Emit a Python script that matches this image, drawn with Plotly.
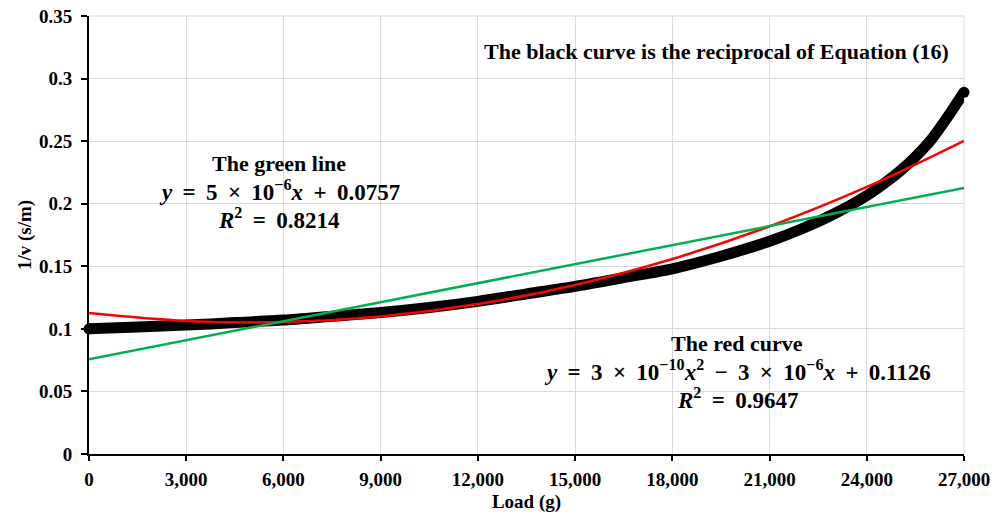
import plotly.graph_objects as go

# Black curve (reciprocal of Equation (16))
load_black = [0, 1500, 3000, 4500, 6000, 7500, 9000, 10500, 12000, 13500, 15000,
              16500, 18000, 19500, 21000, 22000, 23000, 24000, 24500, 25000,
              25500, 26000, 26500, 27000]
inv_v_black = [0.100, 0.1015, 0.103, 0.105, 0.107, 0.110, 0.113, 0.117, 0.122, 0.128, 0.134,
               0.141, 0.148, 0.158, 0.170, 0.180, 0.192, 0.2065, 0.2155, 0.2255,
               0.2375, 0.2515, 0.2695, 0.289]

# Red quadratic trendline
load_red = [0, 3000, 6000, 9000, 12000, 15000, 18000, 21000, 24000, 27000]
inv_v_red = [0.1126, 0.1063, 0.1054, 0.1099, 0.1198, 0.1351, 0.1558, 0.1819, 0.2134, 0.2503]

# Green linear trendline
load_green = [0, 27000]
inv_v_green = [0.0757, 0.2125]

x_ticks = [0, 3000, 6000, 9000, 12000, 15000, 18000, 21000, 24000, 27000]
y_ticks = [0, 0.05, 0.1, 0.15, 0.2, 0.25, 0.3, 0.35]
y_tick_text = ["0", "0.05", "0.1", "0.15", "0.2", "0.25", "0.3", "0.35"]

serif = "Liberation Serif"
GAP = "\u00a0\u2009"

fig = go.Figure()
fig.add_trace(go.Scatter(x=load_black, y=inv_v_black, mode="lines",
                         line=dict(color="black", width=11, shape="spline", smoothing=0.8),
                         showlegend=False, hoverinfo="skip"))
fig.add_trace(go.Scatter(x=[load_black[0], load_black[-1]], y=[inv_v_black[0], inv_v_black[-1]],
                         mode="markers", marker=dict(color="black", size=11),
                         showlegend=False, hoverinfo="skip", cliponaxis=False))
fig.add_trace(go.Scatter(x=load_red, y=inv_v_red, mode="lines",
                         line=dict(color="#ff0000", width=2.5, shape="spline"),
                         showlegend=False, hoverinfo="skip"))
fig.add_trace(go.Scatter(x=load_green, y=inv_v_green, mode="lines",
                         line=dict(color="#00b050", width=2.5),
                         showlegend=False, hoverinfo="skip"))

ann_font = dict(family=serif, size=22, color="black")
eq_font = dict(family=serif, size=23, color="black")


def sp(s):
    return s.replace(" ", GAP)


fig.add_annotation(x=0.985, y=0.3215, xref="x domain", yref="y",
                   text="<b>The black curve is the reciprocal of Equation (16)</b>",
                   showarrow=False, xanchor="right", yanchor="middle", font=ann_font)
green_lines = ["<b>The green line</b>",
               "<b>" + sp("<i>y</i> = 5 × 10<sup>−6</sup><i>x</i> + 0.0757") + "</b>",
               "<b>" + sp("<i>R</i><sup>2</sup> = 0.8214") + "</b>"]
red_lines = ["<b>The red curve</b>",
             "<b>" + sp("<i>y</i> = 3 × 10<sup>−10</sup><i>x</i><sup>2</sup> − 3 × 10<sup>−6</sup><i>x</i> + 0.1126") + "</b>",
             "<b>" + sp("<i>R</i><sup>2</sup> = 0.9647") + "</b>"]
for i, t in enumerate(green_lines):
    fig.add_annotation(x=5870, y=[0.2325, 0.2105, 0.1885][i], xref="x", yref="y",
                       text=t, showarrow=False, xanchor="center", yanchor="middle",
                       font=ann_font if i == 0 else eq_font)
for i, t in enumerate(red_lines):
    fig.add_annotation(x=20000, y=[0.0885, 0.0665, 0.0445][i], xref="x", yref="y",
                       text=t, showarrow=False, xanchor="center", yanchor="middle",
                       font=ann_font if i == 0 else eq_font)

fig.update_layout(
    width=998, height=515,
    margin=dict(l=89, r=34, t=16, b=61),
    paper_bgcolor="white", plot_bgcolor="white",
    font=dict(family=serif, color="black"),
    xaxis=dict(range=[0, 27000], tickvals=x_ticks,
               ticktext=[f"<b>{v:,}</b>" for v in x_ticks],
               showgrid=True, gridcolor="#d9d9d9", gridwidth=1,
               showline=True, linecolor="black", linewidth=2,
               ticks="outside", ticklen=5, tickcolor="black", tickwidth=1.5,
               ticklabelstandoff=2, automargin=False,
               tickfont=dict(family=serif, size=19, color="black"),
               title=dict(text="<b>Load (g)</b>", font=dict(family=serif, size=19), standoff=6),
               zeroline=False),
    yaxis=dict(range=[0, 0.35], tickvals=y_ticks,
               ticktext=[f"<b>{t}</b>" for t in y_tick_text],
               showgrid=True, gridcolor="#d9d9d9", gridwidth=1,
               showline=True, linecolor="black", linewidth=2,
               ticks="outside", ticklen=6, tickcolor="black", tickwidth=1.5,
               ticklabelstandoff=5, automargin=False,
               tickfont=dict(family=serif, size=19, color="black"),
               title=dict(text="", font=dict(family=serif, size=19)),
               zeroline=False),
)
fig.add_annotation(x=25, y=0.5, xref="paper", yref="paper", xanchor="center", yanchor="middle",
                   text="<b>1/v (s/m)</b>", textangle=-90, showarrow=False,
                   font=dict(family=serif, size=19, color="black"))
# convert the pixel x of the y-title into paper coordinates
fig.layout.annotations[-1].x = (25 - 89) / (998 - 89 - 34)
fig.add_shape(type="line", xref="x domain", yref="y domain", x0=1, x1=1, y0=0, y1=1,
              line=dict(color="#d9d9d9", width=1), layer="below")
fig.add_shape(type="line", xref="x domain", yref="y domain", x0=0, x1=1, y0=1, y1=1,
              line=dict(color="#d9d9d9", width=1), layer="below")

fig.write_html("out.html")
